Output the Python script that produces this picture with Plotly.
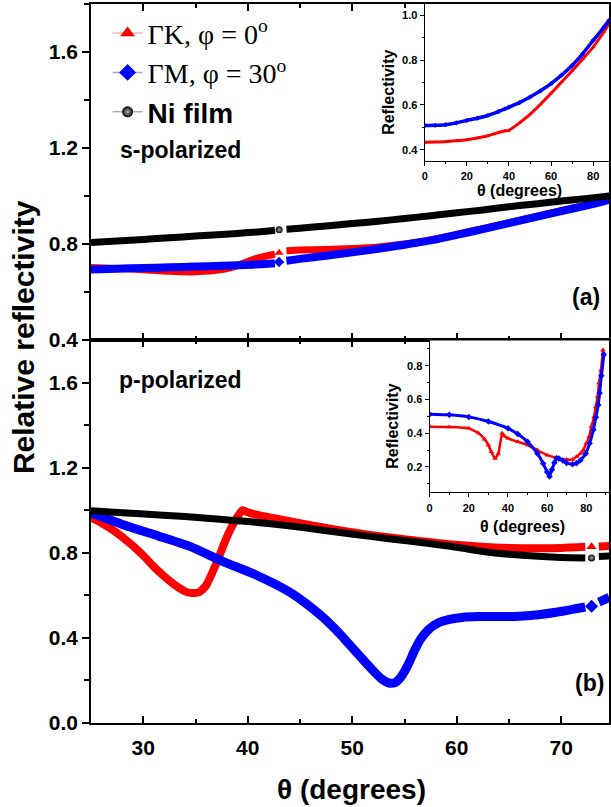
import plotly.graph_objects as go

# ---------------- data ----------------
# panel (a): s-polarized, relative reflectivity
s_theta = [25, 27.5, 30, 32.5, 35, 37.5, 39, 40.5, 42, 42.6, 43.0, 43.7, 45, 47.5, 50,
           52.5, 55, 57.5, 60, 62.5, 65, 67.5, 70, 72.5, 74.6]
s_ni = [0.806, 0.812, 0.819, 0.826, 0.833, 0.840, 0.844, 0.849, 0.854, 0.857, 0.859, 0.861,
        0.866, 0.875, 0.885, 0.895, 0.906, 0.918, 0.930, 0.942, 0.955, 0.967, 0.979, 0.990, 1.000]
s_gm = [0.694, 0.697, 0.700, 0.703, 0.706, 0.709, 0.711, 0.714, 0.718, 0.720, 0.725, 0.730,
        0.738, 0.751, 0.765, 0.780, 0.797, 0.815, 0.838, 0.862, 0.887, 0.912, 0.937, 0.961, 0.984]
s_gk = [0.702, 0.698, 0.693, 0.686, 0.684, 0.693, 0.710, 0.735, 0.752, 0.757, 0.763, 0.772,
        0.775, 0.777, 0.781, 0.788, 0.800, 0.817, 0.840, 0.864, 0.889, 0.914, 0.939, 0.963, 0.986]
s_gap = 43.0

# panel (b): p-polarized, relative reflectivity
p_theta_gk = [25, 26, 27, 28, 29, 30, 31, 32, 33, 34, 34.6, 35.3, 36, 36.6, 37.2, 37.8, 38.5,
              39.0, 39.5, 40, 40.7, 42, 44, 46, 48, 50.3, 53, 56.6, 59.2, 62, 65, 68, 70,
              72.3, 72.9, 73.6, 74.6]
p_gk = [0.966, 0.940, 0.910, 0.874, 0.833, 0.787, 0.735, 0.690, 0.650, 0.619, 0.611, 0.614,
        0.645, 0.706, 0.775, 0.850, 0.925, 0.968, 1.000, 0.990, 0.980, 0.967, 0.948, 0.930,
        0.912, 0.894, 0.875, 0.854, 0.840, 0.830, 0.823, 0.821, 0.823, 0.828, 0.828, 0.830, 0.832]
p_theta_gm = [25, 28, 31.5, 34.4, 37.6, 40.7, 43.9, 45.5, 47.1, 48.4, 49.6, 50.8, 51.9, 52.8,
              53.5, 54.1, 54.7, 55.4, 56.0, 56.6, 57.3, 58.2, 59.2, 60.5, 62, 64.5, 66, 68,
              70.1, 71.5, 72.3, 72.9, 73.6, 74.6]
p_gm = [0.988, 0.933, 0.878, 0.831, 0.760, 0.698, 0.619, 0.565, 0.501, 0.440, 0.376, 0.310,
        0.251, 0.207, 0.188, 0.190, 0.219, 0.280, 0.345, 0.398, 0.439, 0.470, 0.486, 0.496,
        0.500, 0.500, 0.502, 0.510, 0.525, 0.538, 0.545, 0.549, 0.568, 0.590]
p_theta_ni = [25, 28, 31.5, 34, 37.6, 40, 43.9, 47, 50.3, 53.5, 56.6, 59.2, 61, 63.1, 65,
              68.2, 70, 72.3, 72.9, 73.6, 74.6]
p_ni = [0.997, 0.988, 0.978, 0.970, 0.956, 0.947, 0.927, 0.907, 0.886, 0.866, 0.848, 0.832,
        0.818, 0.802, 0.793, 0.782, 0.778, 0.776, 0.776, 0.782, 0.785]
p_gap = 72.9

# inset (a): absolute reflectivity, s-polarized
si_theta = [0, 5, 10, 15, 20, 25, 30, 35, 38, 40, 45, 50, 55, 60, 65, 70, 75, 80, 85, 87.5]
si_gm = [0.508, 0.509, 0.512, 0.520, 0.531, 0.541, 0.553, 0.570, 0.582, 0.590, 0.610, 0.635,
         0.663, 0.695, 0.733, 0.776, 0.828, 0.888, 0.945, 0.977]
si_gk = [0.434, 0.435, 0.436, 0.440, 0.445, 0.453, 0.463, 0.477, 0.484, 0.487, 0.520, 0.558,
         0.603, 0.652, 0.702, 0.752, 0.805, 0.858, 0.925, 0.962]

# inset (b): absolute reflectivity, p-polarized
pi_theta_gk = [0, 10, 20, 25, 28, 30, 31.5, 33.4, 35.1, 37.0, 38, 40, 45, 50, 55, 60, 65, 70,
               73, 75, 77, 78.5, 80, 81.5, 82.6, 83.9, 84.8, 85.8, 86.5, 87.5, 88.5]
pi_gk = [0.439, 0.437, 0.429, 0.400, 0.365, 0.330, 0.290, 0.250, 0.280, 0.400, 0.385, 0.370,
         0.350, 0.330, 0.300, 0.270, 0.254, 0.244, 0.245, 0.260, 0.280, 0.300, 0.340, 0.380,
         0.440, 0.495, 0.555, 0.618, 0.698, 0.773, 0.893]
pi_theta_gm = [0, 10, 20, 30, 40, 45, 50, 55, 58, 60, 61.2, 62.5, 63.7, 64.8, 66, 68, 70, 73,
               75, 77, 79.7, 81.7, 83.6, 84.9, 86.1, 86.8, 87.7, 89.0]
pi_gm = [0.513, 0.509, 0.497, 0.470, 0.429, 0.395, 0.349, 0.280, 0.220, 0.170, 0.144, 0.185,
         0.225, 0.252, 0.250, 0.238, 0.224, 0.216, 0.222, 0.240, 0.280, 0.340, 0.420, 0.495,
         0.568, 0.638, 0.741, 0.867]

names = ["\u0393K, \u03c6 = 0<sup>o</sup>", "\u0393M, \u03c6 = 30<sup>o</sup>",
         "<span style=\"font-family:'Liberation Sans';font-weight:bold\">Ni film</span>"]

RED, BLUE, BLACK = "#ff0000", "#0000ff", "#000000"
SANS = "Liberation Sans"

fig = go.Figure()


def band(theta, vals, gap, color, xa, ya, width=8):
    ys = [None if abs(t - gap) < 1e-9 else v for t, v in zip(theta, vals)]
    fig.add_trace(go.Scatter(x=theta, y=ys, mode="lines", connectgaps=False,
                             line=dict(color=color, width=width, shape="spline", smoothing=0.6),
                             xaxis=xa, yaxis=ya, showlegend=False, hoverinfo="skip"))


def gap_marker(theta, vals, gap, symbol, color, size, xa, ya, grad=False):
    i = [k for k, t in enumerate(theta) if abs(t - gap) < 1e-9][0]
    m = dict(symbol=symbol, color=color, size=size, line=dict(width=0))
    if grad:
        m["gradient"] = dict(type="radial", color="#a8a8a8")
    fig.add_trace(go.Scatter(x=[theta[i]], y=[vals[i]], mode="markers", marker=m,
                             xaxis=xa, yaxis=ya, showlegend=False, hoverinfo="skip"))


# panel (a)
band(s_theta, s_gk, s_gap, RED, "x2", "y2", 7)
band(s_theta, s_gm, s_gap, BLUE, "x2", "y2", 8)
band(s_theta, s_ni, s_gap, BLACK, "x2", "y2", 7)
gap_marker(s_theta, s_gk, s_gap, "triangle-up", RED, 8, "x2", "y2")
gap_marker(s_theta, s_gm, s_gap, "diamond", BLUE, 8, "x2", "y2")
gap_marker(s_theta, s_ni, s_gap, "circle", BLACK, 7, "x2", "y2", grad=True)

# panel (b)
band(p_theta_gk, p_gk, p_gap, RED, "x", "y", 8)
band(p_theta_gm, p_gm, p_gap, BLUE, "x", "y", 9)
band(p_theta_ni, p_ni, p_gap, BLACK, "x", "y", 7)
gap_marker(p_theta_gk, p_gk, p_gap, "triangle-up", RED, 9, "x", "y")
gap_marker(p_theta_gm, p_gm, p_gap, "diamond", BLUE, 10, "x", "y")
gap_marker(p_theta_ni, p_ni, p_gap, "circle", BLACK, 7, "x", "y", grad=True)

# insets
fig.add_trace(go.Scatter(x=si_theta, y=si_gk, mode="lines+markers", xaxis="x3", yaxis="y3",
                         line=dict(color=RED, width=3, shape="spline", smoothing=0.5),
                         marker=dict(symbol="triangle-up", size=4, color=RED),
                         showlegend=False, hoverinfo="skip"))
fig.add_trace(go.Scatter(x=si_theta, y=si_gm, mode="lines+markers", xaxis="x3", yaxis="y3",
                         line=dict(color=BLUE, width=3.5, shape="spline", smoothing=0.5),
                         marker=dict(symbol="diamond", size=4, color=BLUE),
                         showlegend=False, hoverinfo="skip"))
fig.add_trace(go.Scatter(x=pi_theta_gk, y=pi_gk, mode="lines+markers", xaxis="x4", yaxis="y4",
                         line=dict(color=RED, width=2.5, shape="spline", smoothing=0.4),
                         marker=dict(symbol="triangle-up", size=5, color=RED),
                         showlegend=False, hoverinfo="skip"))
fig.add_trace(go.Scatter(x=pi_theta_gm, y=pi_gm, mode="lines+markers", xaxis="x4", yaxis="y4",
                         line=dict(color=BLUE, width=3, shape="spline", smoothing=0.4),
                         marker=dict(symbol="diamond", size=5, color=BLUE),
                         showlegend=False, hoverinfo="skip"))

# legend entries
fig.add_trace(go.Scatter(x=[None], y=[None], mode="lines+markers", name=names[0],
                         line=dict(color="#ff8c8c", width=1),
                         marker=dict(symbol="triangle-up", size=13, color=RED),
                         xaxis="x2", yaxis="y2"))
fig.add_trace(go.Scatter(x=[None], y=[None], mode="lines+markers", name=names[1],
                         line=dict(color="#9aa2ff", width=1.5),
                         marker=dict(symbol="diamond", size=13, color=BLUE),
                         xaxis="x2", yaxis="y2"))
fig.add_trace(go.Scatter(x=[None], y=[None], mode="lines+markers", name=names[2],
                         line=dict(color="#888888", width=1),
                         marker=dict(symbol="circle", size=11, color=BLACK,
                                     gradient=dict(type="radial", color="#b0b0b0")),
                         xaxis="x2", yaxis="y2"))

SPLIT = 0.5327
tickfont_main = dict(family=SANS, size=21, color="black", weight="bold")
tickfont_in = dict(family=SANS, size=11, color="black", weight="bold")

main_x = dict(range=[25, 74.57], showline=True, linecolor="black", linewidth=1.5,
              ticks="inside", ticklen=7, tickwidth=1.5, tickcolor="black", mirror="ticks",
              dtick=10, tick0=0, showgrid=False, zeroline=False,
              minor=dict(ticks="inside", ticklen=4, dtick=5, tickwidth=1.5, tickcolor="black"))
main_y = dict(showline=True, linecolor="black", linewidth=1.5, mirror=True,
              ticks="outside", ticklen=7, tickwidth=1.5, tickcolor="black",
              dtick=0.4, tick0=0, tickformat=".1f", showgrid=False, zeroline=False,
              tickfont=tickfont_main,
              minor=dict(ticks="outside", ticklen=5, dtick=0.2, tickwidth=1.5, tickcolor="black"))
right_y = dict(side="right", ticks="inside", ticklen=5, tickwidth=1.5,
               tickcolor="black", dtick=0.4, tick0=0, showticklabels=False, showgrid=False,
               zeroline=False, showline=False)
in_x = dict(showline=True, linecolor="black", linewidth=1.2, ticks="outside", ticklen=4,
            tickwidth=1.2, tickcolor="black", dtick=20, tick0=0, showgrid=False,
            zeroline=False, tickfont=tickfont_in, ticklabelstandoff=1,
            minor=dict(ticks="outside", ticklen=2, dtick=10, tickwidth=1, tickcolor="black"))
in_y = dict(showline=True, linecolor="black", linewidth=1.2, ticks="outside", ticklen=4,
            tickwidth=1.2, tickcolor="black", dtick=0.2, tick0=0, tickformat=".1f",
            showgrid=False, zeroline=False, tickfont=tickfont_in,
            minor=dict(ticks="outside", ticklen=2, dtick=0.1, tickwidth=1, tickcolor="black"))

fig.update_layout(
    width=611, height=807,
    margin=dict(l=91, r=0, t=4, b=84),
    paper_bgcolor="white", plot_bgcolor="white",
    font=dict(family=SANS, color="black"),
    xaxis=dict(main_x, domain=[0, 1], anchor="y", tickfont=tickfont_main, ticklabelstandoff=5),
    xaxis2=dict(main_x, domain=[0, 1], anchor="y2", matches="x", showticklabels=False),
    yaxis=dict(main_y, domain=[0, SPLIT], range=[0, 1.8], anchor="x"),
    yaxis2=dict(main_y, domain=[SPLIT, 1], range=[0.4, 1.8], anchor="x2"),
    yaxis5=dict(right_y, overlaying="y", anchor="x", range=[0, 1.8]),
    yaxis6=dict(right_y, overlaying="y2", anchor="x2", range=[0.4, 1.8]),
    xaxis3=dict(in_x, domain=[0.6442, 1.0], anchor="y3", range=[0, 87.5]),
    yaxis3=dict(in_y, domain=[0.7816, 1.0], anchor="x3", range=[0.35, 1.05]),
    xaxis4=dict(in_x, domain=[0.6538, 1.0], anchor="y4", range=[0, 91.6]),
    yaxis4=dict(in_y, domain=[0.3209, 0.532], anchor="x4", range=[0.05, 0.95]),
    showlegend=True,
    legend=dict(x=0.032, y=0.994, xanchor="left", yanchor="top", bgcolor="rgba(0,0,0,0)",
                font=dict(family="Liberation Serif", size=28, color="black"),
                tracegroupgap=0, itemwidth=30),
)

ann = [
    dict(text="<b>Relative reflectivity</b>", x=-0.129, y=0.537, textangle=-90,
         font=dict(size=30)),
    dict(text="<b>\u03b8 (degrees)</b>", x=0.502, y=-0.092, font=dict(size=28)),
    dict(text="<b>s-polarized</b>", x=0.052, y=0.797, xanchor="left", font=dict(size=23)),
    dict(text="<b>p-polarized</b>", x=0.050, y=0.477, xanchor="left", font=dict(size=23)),
    dict(text="<b>(a)</b>", x=0.956, y=0.592, font=dict(size=23)),
    dict(text="<b>(b)</b>", x=0.9615, y=0.0563, font=dict(size=23)),
    dict(text="<b>Reflectivity</b>", x=0.5731, y=0.8776, textangle=-90, font=dict(size=16)),
    dict(text="<b>\u03b8 (degrees)</b>", x=0.8269, y=0.7413, font=dict(size=16)),
    dict(text="<b>Reflectivity</b>", x=0.5827, y=0.4131, textangle=-90, font=dict(size=16)),
    dict(text="<b>\u03b8 (degrees)</b>", x=0.8333, y=0.273, font=dict(size=16)),
]
for a in ann:
    a.update(xref="paper", yref="paper", showarrow=False, xanchor=a.get("xanchor", "center"),
             yanchor="middle")
    a["font"] = dict(family=SANS, color="black", **a["font"])
fig.update_layout(annotations=ann)

fig.write_html("out.html",
               config={"displayModeBar": False},
               post_script="document.body.style.margin='0';"
                           "document.body.style.padding='0';"
                           "document.body.style.overflow='hidden';")
